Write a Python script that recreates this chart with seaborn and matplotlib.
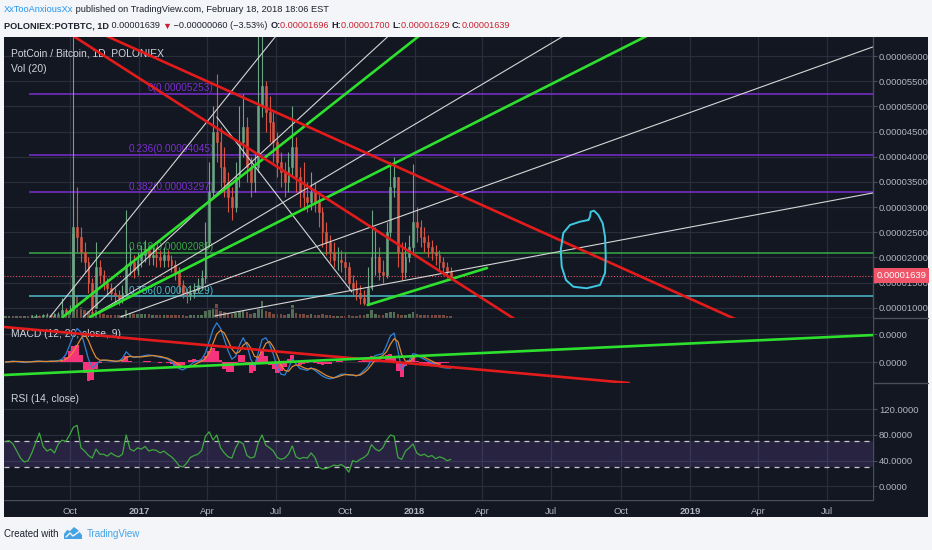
import matplotlib
matplotlib.use("Agg")
import matplotlib.pyplot as plt
import matplotlib.dates as mdates
from matplotlib.patches import Rectangle, Polygon
from matplotlib.lines import Line2D
from matplotlib.ticker import FixedLocator, FuncFormatter
import numpy as np
import pandas as pd
import seaborn as sns

# ---------------- data (prices in satoshi = 1e-8 BTC) ----------------
START_DATE = "2016-07-08"
STEP_DAYS = 5
first_open_sat = 700

close_sat = [720, 740, 730, 760, 750, 770, 760,
             820, 840, 830, 850, 860, 840, 870, 880,
             950, 900, 960,
             2600, 2400, 2100, 1900, 1500, 1000, 1800, 1650, 1500, 1400, 1300, 1250,
             1200, 1300, 1850, 1900, 1750, 1950, 2050, 2150, 2000, 2050,
             2000, 1950, 2050, 1950, 1850, 1700, 1450, 1300, 1250, 1300,
             1350, 1450, 1600, 2300, 3300, 4500, 4300, 3800, 3500, 3200,
             3000, 3600, 4300, 4600, 3800, 3500, 3800, 5000, 5400, 4900,
             4700, 4300, 3900, 3700, 3500, 3800, 4200, 3600, 3300, 3200,
             3100, 3300, 3100, 2900, 2500, 2300, 2100, 1950, 1950, 1900,
             1800, 1500, 1400, 1300, 1200, 1100, 1400, 2000, 2000, 1700,
             1650, 2500, 3400, 3600, 2100, 1700, 2000, 2200, 2700, 2600,
             2400, 2300, 2200, 2100, 2050, 1900, 1800, 1700, 1639]

high_sat = [750, 760, 760, 780, 780, 790, 790,
            850, 870, 860, 880, 890, 880, 900, 920,
            1200, 1000, 1050,
            7000, 3400, 2600, 2300, 2000, 1600, 2300, 1950, 1750, 1600, 1500, 1400,
            1350, 1450, 2950, 2200, 2050, 2100, 2250, 2350, 2250, 2200,
            2200, 2150, 2200, 2150, 2050, 1950, 1800, 1550, 1400, 1450,
            1500, 1600, 1750, 2700, 3900, 5000, 5650, 4600, 4200, 3700,
            3400, 3900, 5000, 5250, 4800, 4000, 4100, 6500, 6500, 5500,
            5200, 4900, 4500, 4100, 3900, 4100, 5000, 4400, 3800, 3900,
            3500, 3700, 3500, 3300, 3000, 2700, 2450, 2300, 2200, 2150,
            2100, 1900, 1650, 1550, 1450, 1350, 1800, 2950, 2600, 2200,
            1950, 2700, 3900, 4000, 3600, 2300, 2300, 2450, 3850, 3000,
            2750, 2600, 2450, 2350, 2250, 2150, 2000, 1900, 1800]

low_sat = [690, 700, 710, 720, 730, 740, 740,
           760, 800, 810, 820, 830, 820, 830, 850,
           860, 860, 880,
           940, 2100, 1900, 1700, 1300, 880, 1000, 1500, 1350, 1250, 1150, 1100,
           1050, 1100, 1250, 1650, 1600, 1650, 1800, 1900, 1850, 1850,
           1800, 1800, 1800, 1800, 1700, 1550, 1300, 1200, 1100, 1150,
           1200, 1300, 1350, 1500, 2200, 3200, 3900, 3400, 3200, 2900,
           2750, 2900, 3400, 4000, 3500, 3200, 3300, 3700, 4800, 4500,
           4300, 3900, 3600, 3400, 3200, 3300, 3600, 3300, 3000, 2950,
           2900, 2950, 2900, 2600, 2200, 2050, 1900, 1800, 1750, 1700,
           1550, 1350, 1250, 1150, 1080, 1050, 1050, 1350, 1650, 1550,
           1500, 1600, 2400, 3200, 1800, 1550, 1600, 1900, 2100, 2300,
           2200, 2100, 2000, 1950, 1850, 1750, 1650, 1600, 1600]

volume = [0.6, 0.6, 0.7, 0.6, 0.8, 0.7, 0.6,
          0.9, 0.8, 0.7, 0.8, 0.9, 0.7, 0.8, 0.9,
          1.2, 1.0, 1.3,
          30, 8, 4, 3, 2.5, 2, 3, 2, 1.5, 1.2, 1.0, 1.0,
          1.0, 1.2, 3.0, 1.8, 1.4, 1.5, 1.6, 1.5, 1.3, 1.2,
          1.2, 1.1, 1.2, 1.0, 1.0, 0.9, 1.0, 0.9, 0.8, 0.9,
          0.9, 1.0, 1.2, 2.5, 3.0, 3.5, 5.0, 2.5, 2.0, 1.5,
          1.4, 1.8, 2.5, 2.8, 2.0, 1.6, 1.8, 3.5, 6.0, 2.5,
          2.0, 1.6, 1.4, 1.3, 1.2, 1.5, 4.5, 1.8, 1.3, 1.5,
          1.2, 1.4, 1.2, 1.1, 1.3, 1.0, 0.9, 0.8, 0.8, 0.8,
          0.8, 0.9, 0.8, 0.8, 0.9, 1.0, 1.5, 3.0, 1.6, 1.2,
          1.1, 1.8, 2.0, 2.2, 1.5, 1.1, 1.2, 1.3, 2.0, 1.4,
          1.2, 1.1, 1.0, 1.0, 0.9, 0.9, 0.9, 0.8, 0.8]

# MACD values in 1e-6 BTC
macd_line = [0.0, 0.05, 0.1, 0.05, 0.0, -0.05, 0.0, 0.05, 0.1, 0.1, 0.05, 0.05, 0.1, 0.1, 0.15,
             0.3, 0.8, 1.8,
             2.8, 3.6, 3.2, 1.8, 0.3, -0.6, -0.3, 0.1, 0.2, 0.15, 0.1, 0.05,
             0.1, 0.4, 1.1, 0.7, 0.5, 0.55, 0.6, 0.7, 0.75, 0.7,
             0.6, 0.5, 0.45, 0.3, 0.0, -0.4, -0.7, -0.85, -0.6, -0.3,
             0.0, 0.1, 0.3, 1.0, 2.2, 3.5, 4.2, 3.6, 2.4, 1.2,
             0.3, 0.6, 1.8, 2.6, 1.8, 0.3, -0.4, 1.0, 2.4, 2.6,
             1.9, 0.8, -0.5, -1.3, -1.4, -0.7, 0.3, -0.2, -0.7, -0.8,
             -0.9, -0.6, -0.9, -1.2, -1.5, -1.7, -1.8, -1.7, -1.5, -1.3,
             -1.3, -1.4, -1.4, -1.5, -1.3, -0.9, -0.5, 0.3, 0.7, 0.8,
             0.9, 1.8, 2.8, 3.1, 1.2, -0.8, -0.3, 0.2, 0.9, 0.8,
             0.5, 0.3, 0.1, -0.1, -0.3, -0.5, -0.6, -0.65, -0.65]

macd_signal = [0.0, 0.02, 0.05, 0.06, 0.05, 0.02, 0.01, 0.02, 0.05, 0.07, 0.07, 0.06, 0.07, 0.08, 0.1,
               0.15, 0.3, 0.6,
               1.1, 1.8, 2.5, 3.0, 2.3, 1.3, 0.5, 0.2, 0.2, 0.2, 0.15, 0.1,
               0.1, 0.2, 0.5, 0.6, 0.55, 0.55, 0.55, 0.6, 0.65, 0.7,
               0.65, 0.6, 0.5, 0.4, 0.2, 0.0, -0.3, -0.5, -0.6, -0.5,
               -0.3, -0.1, 0.1, 0.4, 1.0, 2.0, 3.0, 3.4, 3.1, 2.3,
               1.4, 0.9, 1.1, 1.8, 2.1, 1.5, 0.6, 0.5, 1.2, 2.0,
               2.2, 1.6, 0.7, -0.3, -0.9, -1.0, -0.5, -0.3, -0.4, -0.6,
               -0.75, -0.7, -0.75, -0.95, -1.2, -1.45, -1.6, -1.7, -1.6, -1.45,
               -1.35, -1.35, -1.4, -1.45, -1.4, -1.15, -0.8, -0.3, 0.2, 0.5,
               0.7, 1.1, 1.9, 2.5, 2.2, 0.8, 0.1, 0.0, 0.4, 0.7,
               0.65, 0.5, 0.3, 0.1, -0.1, -0.3, -0.45, -0.55, -0.6]

rsi_values = [70, 71, 66, 55, 44, 38, 40, 52, 68, 83, 62, 55, 58, 52, 66,
              72, 70, 80,
              92, 95, 60, 55, 48, 44, 58, 50, 50, 47, 52, 48,
              46, 50, 80, 58, 55, 60, 58, 62, 55, 57,
              56, 52, 55, 50, 46, 40, 32, 30, 36, 45,
              48, 50, 56, 78, 85, 72, 80, 60, 52, 46,
              44, 60, 70, 66, 48, 44, 46, 68, 80, 64,
              60, 55, 45, 42, 44, 50, 63, 46, 43, 45,
              44, 52, 45, 30, 27, 28, 30, 33, 32, 34,
              30, 22, 40, 38, 42, 45, 50, 65, 58, 55,
              60, 72, 80, 78, 45, 42, 55, 60, 66, 52,
              48, 50, 46, 48, 43, 46, 44, 40, 42]

# Fibonacci retracement
fib_ratios = ["0", "0.236", "0.382", "0.618", "0.786"]
fib_levels_sat = [5253, 4045, 3297, 2089, 1229]
fib_start_date = "2016-08-08"
fib_label_date = "2017-04-10"

last_price_sat = 1639

# trend-line drawings: (date, satoshi) endpoints
red_lines = [[("2016-10-06", 6400), ("2018-05-15", 760)],
             [("2016-11-19", 6400), ("2019-03-04", 760)]]
green_lines = [[("2016-09-22", 815), ("2018-01-11", 6450)],
               [("2016-10-28", 815), ("2018-11-11", 6450)],
               [("2017-10-31", 1054), ("2018-04-07", 1789)]]
white_lines = [[("2016-09-05", 815), ("2017-07-04", 6450)],
               [("2016-10-19", 815), ("2017-12-01", 6450)],
               [("2016-10-28", 815), ("2018-07-23", 6450)],
               [("2016-12-07", 815), ("2019-08-31", 6183)],
               [("2017-04-11", 835), ("2019-08-31", 3280)],
               [("2017-04-14", 4791), ("2017-10-10", 1312)]]
# MACD pane drawings: (date, 1e-6 BTC)
macd_red_line = [("2016-07-07", 3.75), ("2018-10-12", -2.25)]
macd_green_line = [("2016-07-07", -1.39), ("2019-08-31", 2.89)]
# free-hand circle: days after 2017-01-01, satoshi
circle_days = [595.3, 584.3, 571.0, 562.1, 558.7, 560.0, 565.7, 575.4, 593.1, 610.8,
               617.4, 618.3, 617.4, 614.3, 608.5, 602.8, 598.4, 597.5, 595.3]
circle_sat = [2743, 2710, 2644, 2485, 2147, 1815, 1548, 1417, 1386, 1451,
              1690, 2014, 2411, 2678, 2843, 2928, 2908, 2809, 2743]

price_ticks_sat = [1000, 1500, 2000, 2500, 3000, 3500, 4000, 4500, 5000, 5500, 6000]
macd_ticks = [0.0, 3.0]
rsi_ticks = [0, 40, 80, 120]
time_tick_dates = ["2016-10-01", "2017-01-01", "2017-04-01", "2017-07-01", "2017-10-01",
                   "2018-01-01", "2018-04-01", "2018-07-01", "2018-10-01", "2019-01-01",
                   "2019-04-01", "2019-07-01"]
time_tick_labels = ["Oct", "2017", "Apr", "Jul", "Oct", "2018", "Apr", "Jul", "Oct", "2019", "Apr", "Jul"]

# ---------------- style ----------------
sns.set_theme(style="dark")
plt.rcParams['font.family'] = ['Liberation Sans', 'DejaVu Sans']
plt.rcParams['axes.unicode_minus'] = False

W, H = 932, 550
BG = '#131722'
GRID = '#2a2e3b'
SEP = '#4a4e5a'
TXT = '#b2b5be'
LBL = '#d1d4dc'

fig = plt.figure(figsize=(W / 100, H / 100), dpi=100, facecolor='#f3f5f8')
fig.patches.append(Rectangle((4 / W, 1 - 517 / H), 924 / W, 480 / H, transform=fig.transFigure,
                             facecolor=BG, edgecolor='none', zorder=0))


def rect(top, bottom, left=4, right=873):
    return [left / W, 1 - bottom / H, (right - left) / W, (bottom - top) / H]


base = mdates.date2num(pd.Timestamp("2017-01-01"))
XL = (base - 178.9, base + 972.4)

ax_vol = fig.add_axes(rect(37, 318))
ax_price = fig.add_axes(rect(37, 318), sharex=ax_vol)
ax_macd = fig.add_axes(rect(318, 383), sharex=ax_vol)
ax_rsi = fig.add_axes(rect(383, 500), sharex=ax_vol)
ax_vol.set_zorder(1)
ax_price.set_zorder(2)
ax_macd.set_zorder(2)
ax_rsi.set_zorder(2)

for ax in (ax_vol, ax_price, ax_macd, ax_rsi):
    ax.set_facecolor(BG)
    for s in ax.spines.values():
        s.set_visible(False)
ax_price.patch.set_visible(False)
ax_vol.set_xlim(*XL)

dnum = mdates.date2num(pd.date_range(START_DATE, periods=len(close_sat), freq=f"{STEP_DAYS}D"))
opens = [first_open_sat] + close_sat[:-1]
S = 1e-8


def dn(s):
    return mdates.date2num(pd.Timestamp(s))


# volume
ax_vol.set_ylim(0, 100)
vol_colors = ['#6a8f6a' if c >= o else '#9a5a4a' for o, c in zip(opens, close_sat)]
ax_vol.bar(dnum, volume, width=3.4, color=vol_colors, alpha=0.75, linewidth=0)
ax_vol.set_yticks([])
ax_vol.tick_params(axis='x', length=0, labelbottom=False)
ax_vol.grid(False)

# price pane
ax_price.set_ylim(795 * S, 6381 * S)
ax_price.yaxis.tick_right()
ax_price.yaxis.set_major_locator(FixedLocator([v * S for v in price_ticks_sat]))
ax_price.yaxis.set_major_formatter(FuncFormatter(lambda v, p: f"{v:.8f}"))

fib_colors = ['#7b2fd0', '#7b2fd0', '#7b2fd0', '#35a845', '#4cbccb']
for r, lvl, c in zip(fib_ratios, fib_levels_sat, fib_colors):
    ax_price.hlines(lvl * S, dn(fib_start_date), XL[1], color=c, lw=1.1, zorder=1)
    ax_price.text(dn(fib_label_date), lvl * S + 12 * S, f"{r}({lvl * S:.8f})", color=c,
                  fontsize=7.2, ha='right', va='bottom', zorder=1)

ax_price.axhline(last_price_sat * S, color='#e5505f', lw=0.8, ls=(0, (1, 1.6)), zorder=1.5)

up = '#6ba583'
down = '#d75442'
ccol = [up if c >= o else down for o, c in zip(opens, close_sat)]
ax_price.vlines(dnum, [v * S for v in low_sat], [v * S for v in high_sat], colors=ccol, lw=0.8, zorder=2)
ax_price.bar(dnum, [abs(c - o) * S for o, c in zip(opens, close_sat)], bottom=[min(o, c) * S for o, c in zip(opens, close_sat)],
             width=2.4, color=ccol, edgecolor=ccol, linewidth=0.4, zorder=2)

for seg in white_lines:
    ax_price.plot([dn(seg[0][0]), dn(seg[1][0])], [seg[0][1] * S, seg[1][1] * S], color='#d6d6d6', lw=0.8, zorder=3)
for seg in green_lines:
    ax_price.plot([dn(seg[0][0]), dn(seg[1][0])], [seg[0][1] * S, seg[1][1] * S], color='#2ee02e', lw=1.9, zorder=3.2)
for seg in red_lines:
    ax_price.plot([dn(seg[0][0]), dn(seg[1][0])], [seg[0][1] * S, seg[1][1] * S], color='#e31b1b', lw=1.9, zorder=3.3)

ax_price.plot([base + d for d in circle_days], [v * S for v in circle_sat], color='#3fc8e2', lw=1.4, zorder=4)

ax_price.annotate(f"{last_price_sat * S:.8f}", xy=(1.0, last_price_sat * S), xycoords=('axes fraction', 'data'),
                  xytext=(2.6, 0), textcoords='offset points', ha='left', va='center', color='white', fontsize=6.8,
                  bbox=dict(boxstyle='square,pad=0.28', fc='#ef5468', ec='none'), annotation_clip=False, zorder=10)

ax_price.text(7 / 869, 1 - 16 / 281, "PotCoin / Bitcoin, 1D, POLONIEX", transform=ax_price.transAxes,
              color=LBL, fontsize=7.4, ha='left', va='center', zorder=2.5)
ax_price.text(7 / 869, 1 - 32 / 281, "Vol (20)", transform=ax_price.transAxes,
              color=LBL, fontsize=7.4, ha='left', va='center', zorder=2.5)

# MACD pane
U = 1e-6
ax_macd.set_ylim(-2.25 * U, 4.72 * U)
ax_macd.yaxis.tick_right()
ax_macd.yaxis.set_major_locator(FixedLocator([v * U for v in macd_ticks]))
ax_macd.yaxis.set_major_formatter(FuncFormatter(lambda v, p: f"{abs(v):.4f}"))
hist = [(m - s) * U for m, s in zip(macd_line, macd_signal)]
ax_macd.bar(dnum, hist, width=STEP_DAYS, color='#f7337c', linewidth=0, zorder=2)
macd_df = pd.DataFrame({"x": dnum, "macd": [v * U for v in macd_line], "signal": [v * U for v in macd_signal]})
sns.lineplot(data=macd_df, x="x", y="macd", ax=ax_macd, color='#2f82d8', lw=0.9, zorder=3)
sns.lineplot(data=macd_df, x="x", y="signal", ax=ax_macd, color='#e08a30', lw=0.9, zorder=3)
ax_macd.plot([dn(p[0]) for p in macd_red_line], [p[1] * U for p in macd_red_line], color='#e31b1b', lw=1.9, zorder=4)
ax_macd.plot([dn(p[0]) for p in macd_green_line], [p[1] * U for p in macd_green_line], color='#2ee02e', lw=1.9, zorder=4)
ax_macd.text(7 / 869, 1 - 16 / 65, "MACD (12, 26, close, 9)", transform=ax_macd.transAxes,
             color=LBL, fontsize=7.4, ha='left', va='center', zorder=2.5)

# RSI pane
ax_rsi.set_ylim(-21.3, 161)
ax_rsi.yaxis.tick_right()
ax_rsi.yaxis.set_major_locator(FixedLocator(rsi_ticks))
ax_rsi.yaxis.set_major_formatter(FuncFormatter(lambda v, p: f"{v:.4f}"))
ax_rsi.axhspan(30, 70, color='#7e57c2', alpha=0.2, lw=0, zorder=1)
ax_rsi.axhline(70, color='#c8c8cc', lw=0.9, ls=(0, (4, 4)), zorder=1.5)
ax_rsi.axhline(30, color='#c8c8cc', lw=0.9, ls=(0, (4, 4)), zorder=1.5)
rsi_df = pd.DataFrame({"x": dnum, "rsi": rsi_values})
sns.lineplot(data=rsi_df, x="x", y="rsi", ax=ax_rsi, color='#3fa83f', lw=0.9, zorder=3)
ax_rsi.text(7 / 869, 1 - 16 / 117, "RSI (14, close)", transform=ax_rsi.transAxes,
            color=LBL, fontsize=7.4, ha='left', va='center', zorder=2.5)

# axes common
ax_rsi.xaxis.set_major_locator(FixedLocator([dn(d) for d in time_tick_dates]))
ax_rsi.set_xticklabels(time_tick_labels)
for t in ax_rsi.get_xticklabels():
    if t.get_text().isdigit():
        t.set_fontweight('bold')
ax_rsi.set_xlim(*XL)
for ax in (ax_price, ax_macd, ax_rsi):
    ax.set_xlabel("")
    ax.set_ylabel("")
    ax.grid(True, color=GRID, lw=0.9)
    ax.tick_params(axis='y', which='major', right=True, left=False, length=3, width=0.8, color=SEP,
                   pad=1.2, labelsize=6.8, labelcolor=TXT)
    ax.tick_params(axis='x', length=0, labelbottom=False)
ax_rsi.tick_params(axis='x', labelbottom=True, labelsize=6.8, labelcolor=TXT, pad=3,
                   length=2.2, width=0.8, color=SEP, direction='out')

# separators
fig.add_artist(Line2D([4 / W, 928 / W], [1 - 318 / H] * 2, color=SEP, lw=1))
fig.add_artist(Line2D([4 / W, 928 / W], [1 - 383 / H] * 2, color=SEP, lw=1))
fig.add_artist(Line2D([4 / W, 873 / W], [1 - 500 / H] * 2, color=SEP, lw=1))
fig.add_artist(Line2D([873 / W, 873 / W], [1 - 37 / H, 1 - 500 / H], color=SEP, lw=1))

# header texts
renderer = fig.canvas.get_renderer()


def text_run(parts, x_px, y_px, size):
    x = x_px
    for s, color, weight in parts:
        t = fig.text(x / W, 1 - y_px / H, s, color=color, fontsize=size, fontweight=weight,
                     ha='left', va='center')
        x += t.get_window_extent(renderer=renderer).width


DARK = '#1e222d'
RED = '#c8202f'
text_run([("XxTooAnxiousXx", '#2196f3', 'normal'),
          (" published on TradingView.com, February 18, 2018 18:06 EST", DARK, 'normal')], 4, 10, 6.7)
text_run([("POLONIEX:POTBTC, 1D", DARK, 'bold'),
          (" 0.00001639 ", DARK, 'normal'),
          ("▼", RED, 'normal'),
          (" \u22120.00000060 (\u22123.53%) ", DARK, 'normal'),
          ("O:", DARK, 'bold'), ("0.00001696 ", RED, 'normal'),
          ("H:", DARK, 'bold'), ("0.00001700 ", RED, 'normal'),
          ("L:", DARK, 'bold'), ("0.00001629 ", RED, 'normal'),
          ("C:", DARK, 'bold'), ("0.00001639", RED, 'normal')], 4, 26, 6.6)

# footer
fig.text(4 / W, 1 - 534 / H, "Created with", color=DARK, fontsize=7.0, ha='left', va='center')
logo_px = [(64, 539), (64, 534), (67, 530), (70, 531), (74, 527), (78, 530), (82, 535), (82, 539)]
fig.patches.append(Polygon([(x / W, 1 - y / H) for x, y in logo_px], closed=True, transform=fig.transFigure,
                           facecolor='#45a3e5', edgecolor='none'))
fig.add_artist(Line2D([66 / W, 70 / W, 73 / W, 80 / W], [1 - 537 / H, 1 - 533 / H, 1 - 536 / H, 1 - 531 / H],
                      color='#f3f5f8', lw=1.0))
fig.text(87 / W, 1 - 534 / H, "TradingView", color='#45a3e5', fontsize=7.0, ha='left', va='center')

fig.savefig("out.png", dpi=100, facecolor=fig.get_facecolor())
